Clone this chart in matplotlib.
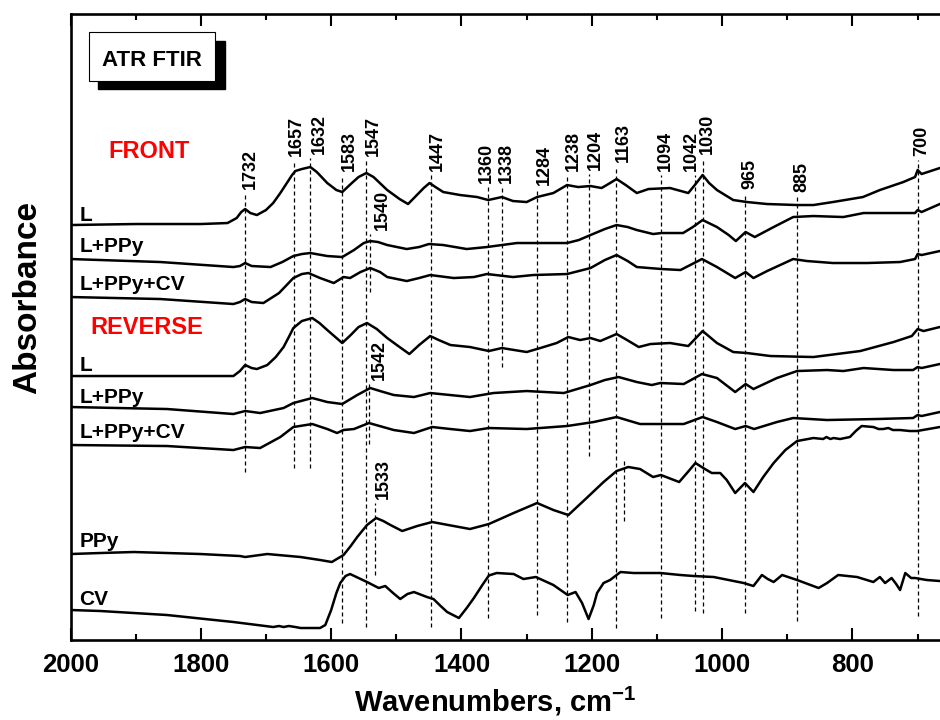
import matplotlib.pyplot as plt
from matplotlib.patches import Rectangle
from matplotlib.ticker import MultipleLocator
from matplotlib.transforms import offset_copy

plt.rcParams['font.family'] = ['Liberation Sans', 'DejaVu Sans']
plt.rcParams['font.weight'] = 'bold'
plt.rcParams['mathtext.fontset'] = 'custom'
plt.rcParams['mathtext.rm'] = 'Liberation Sans:bold'
plt.rcParams['mathtext.bf'] = 'Liberation Sans:bold'
plt.rcParams['mathtext.default'] = 'bf'

# ---- spectra (wavenumber, stacked absorbance in arbitrary units) ----
wn_front_L = [2000, 1900, 1800, 1759, 1745, 1738, 1732, 1724, 1714, 1700, 1689, 1678, 1668, 1660,
              1655, 1645, 1632, 1622, 1606, 1592, 1583, 1570, 1558, 1546, 1535, 1514, 1495, 1482,
              1470, 1458, 1449, 1440, 1428, 1402, 1376, 1359, 1338, 1321, 1300, 1284, 1259, 1238,
              1221, 1202, 1185, 1172, 1162, 1148, 1131, 1113, 1080, 1052, 1042, 1030, 1020, 1008,
              983, 962, 931, 885, 860, 830, 784, 758, 722, 704, 700, 694, 666]
ab_front_L = [4.15, 4.16, 4.16, 4.17, 4.22, 4.28, 4.31, 4.27, 4.25, 4.30, 4.37, 4.47, 4.57, 4.65,
              4.69, 4.71, 4.73, 4.68, 4.57, 4.50, 4.48, 4.56, 4.63, 4.67, 4.63, 4.50, 4.41, 4.36,
              4.44, 4.52, 4.57, 4.53, 4.48, 4.45, 4.43, 4.40, 4.43, 4.39, 4.38, 4.43, 4.47, 4.55,
              4.53, 4.54, 4.52, 4.57, 4.61, 4.55, 4.47, 4.51, 4.52, 4.47, 4.55, 4.65, 4.57, 4.50,
              4.40, 4.38, 4.36, 4.35, 4.35, 4.38, 4.43, 4.50, 4.58, 4.63, 4.70, 4.66, 4.72]

wn_front_LP = [2000, 1862, 1750, 1740, 1732, 1722, 1693, 1675, 1658, 1645, 1632, 1606, 1583, 1565,
               1550, 1540, 1528, 1514, 1484, 1465, 1450, 1428, 1392, 1361, 1315, 1290, 1238, 1220,
               1202, 1180, 1162, 1145, 1131, 1106, 1093, 1060, 1045, 1030, 1008, 990, 979, 964,
               950, 921, 891, 860, 814, 783, 727, 704, 700, 694, 666]
ab_front_LP = [3.81, 3.78, 3.73, 3.74, 3.77, 3.74, 3.73, 3.78, 3.84, 3.86, 3.87, 3.84, 3.83, 3.90,
               3.97, 3.99, 3.98, 3.95, 3.91, 3.93, 3.96, 3.95, 3.91, 3.93, 3.97, 3.97, 3.97, 4.00,
               4.05, 4.11, 4.15, 4.13, 4.10, 4.06, 4.07, 4.07, 4.13, 4.20, 4.13, 4.05, 3.99, 4.08,
               4.03, 4.13, 4.23, 4.24, 4.23, 4.27, 4.27, 4.27, 4.30, 4.28, 4.36]

wn_front_LPC = [2000, 1862, 1750, 1740, 1732, 1722, 1704, 1680, 1658, 1645, 1635, 1617, 1596, 1581,
                1571, 1555, 1540, 1525, 1514, 1484, 1465, 1448, 1412, 1381, 1361, 1321, 1290, 1238,
                1202, 1180, 1162, 1145, 1131, 1093, 1064, 1031, 1008, 980, 964, 952, 931, 891,
                870, 830, 778, 727, 704, 700, 694, 666]
ab_front_LPC = [3.43, 3.41, 3.36, 3.38, 3.41, 3.38, 3.37, 3.47, 3.62, 3.66, 3.67, 3.62, 3.57, 3.63,
                3.62, 3.68, 3.72, 3.68, 3.63, 3.59, 3.62, 3.65, 3.62, 3.63, 3.66, 3.63, 3.65, 3.66,
                3.72, 3.80, 3.85, 3.79, 3.73, 3.71, 3.70, 3.81, 3.73, 3.62, 3.68, 3.62, 3.69, 3.81,
                3.79, 3.77, 3.77, 3.78, 3.81, 3.86, 3.85, 3.89]

wn_rev_L = [2000, 1850, 1750, 1740, 1732, 1722, 1714, 1698, 1685, 1673, 1665, 1658, 1645, 1629,
            1618, 1606, 1583, 1570, 1558, 1545, 1530, 1514, 1495, 1480, 1465, 1448, 1435, 1417,
            1387, 1358, 1338, 1300, 1279, 1254, 1236, 1218, 1202, 1187, 1162, 1146, 1128, 1110,
            1080, 1052, 1030, 1008, 983, 962, 926, 860, 788, 737, 709, 700, 691, 666]
ab_rev_L = [2.64, 2.64, 2.64, 2.69, 2.75, 2.72, 2.71, 2.75, 2.83, 2.93, 3.03, 3.12, 3.19, 3.22,
            3.17, 3.10, 2.97, 3.05, 3.13, 3.17, 3.11, 3.02, 2.93, 2.86, 2.95, 3.04, 3.00, 2.95,
            2.93, 2.89, 2.92, 2.88, 2.92, 2.97, 3.03, 3.00, 3.02, 2.99, 3.06, 3.00, 2.93, 2.96,
            2.97, 2.94, 3.09, 2.97, 2.88, 2.87, 2.84, 2.83, 2.89, 2.98, 3.04, 3.11, 3.09, 3.13]

wn_rev_LP = [2000, 1852, 1750, 1732, 1709, 1673, 1658, 1629, 1606, 1583, 1560, 1540, 1525, 1504,
             1473, 1448, 1387, 1351, 1300, 1243, 1202, 1180, 1159, 1131, 1108, 1095, 1059, 1031,
             1008, 980, 964, 952, 916, 885, 839, 814, 783, 737, 707, 700, 694, 666]
ab_rev_LP = [2.33, 2.31, 2.26, 2.29, 2.27, 2.32, 2.37, 2.42, 2.38, 2.36, 2.45, 2.52, 2.49, 2.45,
             2.43, 2.47, 2.43, 2.47, 2.49, 2.47, 2.55, 2.60, 2.63, 2.58, 2.55, 2.57, 2.56, 2.66,
             2.62, 2.48, 2.56, 2.51, 2.62, 2.69, 2.70, 2.69, 2.72, 2.70, 2.70, 2.73, 2.72, 2.76]

wn_rev_LPC = [2000, 1852, 1750, 1732, 1709, 1678, 1658, 1629, 1606, 1591, 1581, 1565, 1542, 1504,
              1473, 1445, 1417, 1387, 1358, 1300, 1238, 1197, 1162, 1126, 1059, 1030, 1008, 980,
              964, 951, 916, 891, 839, 763, 707, 700, 694, 666]
ab_rev_LPC = [1.95, 1.94, 1.90, 1.93, 1.92, 2.03, 2.13, 2.16, 2.11, 2.07, 2.10, 2.11, 2.17, 2.10,
              2.07, 2.13, 2.11, 2.09, 2.12, 2.11, 2.14, 2.18, 2.23, 2.16, 2.16, 2.23, 2.18, 2.11,
              2.14, 2.11, 2.18, 2.22, 2.20, 2.21, 2.22, 2.25, 2.24, 2.28]

wn_ppy = [2000, 1954, 1903, 1801, 1740, 1732, 1698, 1647, 1617, 1599, 1581, 1570, 1560, 1545,
          1531, 1520, 1509, 1491, 1468, 1445, 1412, 1387, 1358, 1320, 1284, 1259, 1236, 1208,
          1182, 1162, 1144, 1126, 1106, 1094, 1066, 1054, 1041, 1029, 1016, 1003, 993, 980,
          965, 952, 937, 921, 903, 885, 860, 845, 840, 834, 829, 819, 804, 795, 786, 768,
          760, 753, 745, 738, 727, 712, 701, 666]
ab_ppy = [0.86, 0.87, 0.88, 0.86, 0.84, 0.83, 0.86, 0.83, 0.80, 0.78, 0.85, 0.94, 1.03, 1.15,
          1.22, 1.19, 1.15, 1.09, 1.14, 1.18, 1.14, 1.11, 1.16, 1.27, 1.37, 1.30, 1.25, 1.42,
          1.58, 1.69, 1.73, 1.71, 1.63, 1.65, 1.58, 1.67, 1.77, 1.72, 1.67, 1.67, 1.60, 1.47,
          1.57, 1.48, 1.63, 1.77, 1.90, 1.99, 2.02, 2.01, 2.03, 2.01, 2.02, 2.01, 2.03, 2.09,
          2.14, 2.13, 2.11, 2.11, 2.12, 2.10, 2.10, 2.09, 2.09, 2.13]

wn_cv = [2000, 1954, 1852, 1750, 1689, 1680, 1673, 1665, 1655, 1647, 1617, 1609, 1600, 1592,
         1586, 1578, 1571, 1558, 1545, 1527, 1517, 1505, 1494, 1483, 1473, 1453, 1443, 1432,
         1422, 1404, 1392, 1381, 1368, 1358, 1346, 1320, 1305, 1286, 1259, 1237, 1225, 1215,
         1205, 1197, 1192, 1182, 1172, 1156, 1136, 1095, 1064, 1044, 1013, 967, 952, 939,
         930, 921, 908, 885, 852, 839, 822, 793, 768, 758, 750, 740, 733, 727, 719, 710,
         704, 686, 666]
ab_cv = [0.30, 0.29, 0.25, 0.18, 0.13, 0.14, 0.13, 0.14, 0.13, 0.12, 0.12, 0.15, 0.30, 0.47,
         0.57, 0.64, 0.66, 0.62, 0.58, 0.52, 0.54, 0.47, 0.41, 0.46, 0.48, 0.43, 0.41, 0.34,
         0.28, 0.22, 0.32, 0.42, 0.55, 0.645, 0.67, 0.66, 0.61, 0.63, 0.55, 0.45, 0.48, 0.37,
         0.21, 0.35, 0.47, 0.57, 0.60, 0.68, 0.67, 0.67, 0.65, 0.64, 0.63, 0.57, 0.54, 0.65,
         0.61, 0.58, 0.65, 0.60, 0.52, 0.57, 0.65, 0.63, 0.58, 0.63, 0.57, 0.62, 0.56, 0.50,
         0.67, 0.62, 0.62, 0.60, 0.59]

curve_names = ['L', 'L+PPy', 'L+PPy+CV', 'L', 'L+PPy', 'L+PPy+CV', 'PPy', 'CV']

# band assignments (labelled dashed markers)
band_wn = [1732, 1657, 1632, 1583, 1547, 1540, 1542, 1533, 1447, 1360, 1338, 1284, 1238,
           1204, 1163, 1094, 1042, 1030, 965, 885, 700]
band_labels = [str(b) for b in band_wn]


fig = plt.figure(figsize=(9.4, 7.2), dpi=100)
ax = fig.add_axes([0.0750, 0.1111, 0.9567, 0.8694])

spectra = [(wn_front_L, ab_front_L), (wn_front_LP, ab_front_LP), (wn_front_LPC, ab_front_LPC),
           (wn_rev_L, ab_rev_L), (wn_rev_LP, ab_rev_LP), (wn_rev_LPC, ab_rev_LPC),
           (wn_ppy, ab_ppy), (wn_cv, ab_cv)]
for wn, ab in spectra:
    ax.plot(wn, ab, color='black', lw=1.8, solid_joinstyle='round')

# curve names, placed at the left just above each trace (baseline y)
name_y = [4.19, 3.88, 3.50, 2.69, 2.37, 2.02, 0.93, 0.35]
for name, y in zip(curve_names, name_y):
    ax.text(1986, y, name, fontsize=15, fontweight='bold', va='baseline', ha='left')

# dashed band lines: (top, bottom) in axis units, label sits on top
band_span = [(4.47, 1.68), (4.80, 1.72), (4.82, 1.72), (4.65, 0.17), (4.80, 0.13), (4.06, 3.48),
             (2.56, 1.96), (1.37, 0.65), (4.65, 0.13), (4.53, 0.22), (4.53, 2.73), (4.51, 0.25),
             (4.65, 0.18), (4.66, 1.84), (4.74, 0.12), (4.65, 0.22), (4.65, 0.29), (4.82, 0.27),
             (4.47, 0.27), (4.44, 0.19), (4.80, 0.24)]
# sideways nudge of each label (pixels) so neighbouring numbers do not collide
label_dx = [5, 2, 9, 7, 8, 12, 10, 9, 7, -1, 4, 7, 6, 6, 7, 4, -3, 5, 5, 5, 4]
for b, lab, (top, bot), dx in zip(band_wn, band_labels, band_span, label_dx):
    ax.plot([b, b], [bot, top], color='black', lw=0.9, ls=(0, (3.2, 2.4)))
    tr = offset_copy(ax.transData, fig=fig, x=dx, y=4, units='dots')
    ax.text(b, top, lab, rotation=90, ha='center', va='bottom', fontsize=13,
            fontweight='bold', transform=tr)
# unlabelled short marker inside the PPy trace
ax.plot([1151, 1151], [1.19, 1.80], color='black', lw=0.9, ls=(0, (3.2, 2.4)))

ax.text(1879, 4.89, 'FRONT', color='#ff0000', fontsize=17, fontweight='bold',
        ha='center', va='center')
ax.text(1883, 3.13, 'REVERSE', color='#ff0000', fontsize=17, fontweight='bold',
        ha='center', va='center')

# "ATR FTIR" box with a solid drop shadow
fig.patches.append(Rectangle((98 / 940, 1 - 89 / 720), 127 / 940, 48 / 720,
                             transform=fig.transFigure, facecolor='black', edgecolor='black'))
fig.patches.append(Rectangle((89 / 940, 1 - 81 / 720), 126 / 940, 49 / 720,
                             transform=fig.transFigure, facecolor='white', edgecolor='black',
                             lw=0.8))
fig.text(152 / 940, 1 - 61 / 720, 'ATR FTIR', fontsize=16, fontweight='bold',
         ha='center', va='center')

ax.set_xlim(2000, 620)
ax.set_ylim(0, 6.26)
ax.xaxis.set_major_locator(MultipleLocator(200))
ax.xaxis.set_minor_locator(MultipleLocator(100))
ax.tick_params(axis='x', which='both', direction='in', top=True, bottom=True,
               labelsize=18.5, pad=9, width=1.5)
ax.tick_params(axis='x', which='major', length=8.5)
ax.tick_params(axis='x', which='minor', length=4.3)
for lab in ax.get_xticklabels():
    lab.set_fontweight('bold')
ax.tick_params(axis='y', left=False, labelleft=False)
for sp in ax.spines.values():
    sp.set_linewidth(1.9)

fig.text(28 / 940, 1 - 298 / 720, 'Absorbance', rotation=90, fontsize=24,
         fontweight='bold', ha='center', va='center')
fig.text(495 / 940, 1 - 712 / 720, 'Wavenumbers, cm$^{-1}$', fontsize=21,
         fontweight='bold', ha='center', va='baseline')

fig.savefig('out.png', dpi=100)
